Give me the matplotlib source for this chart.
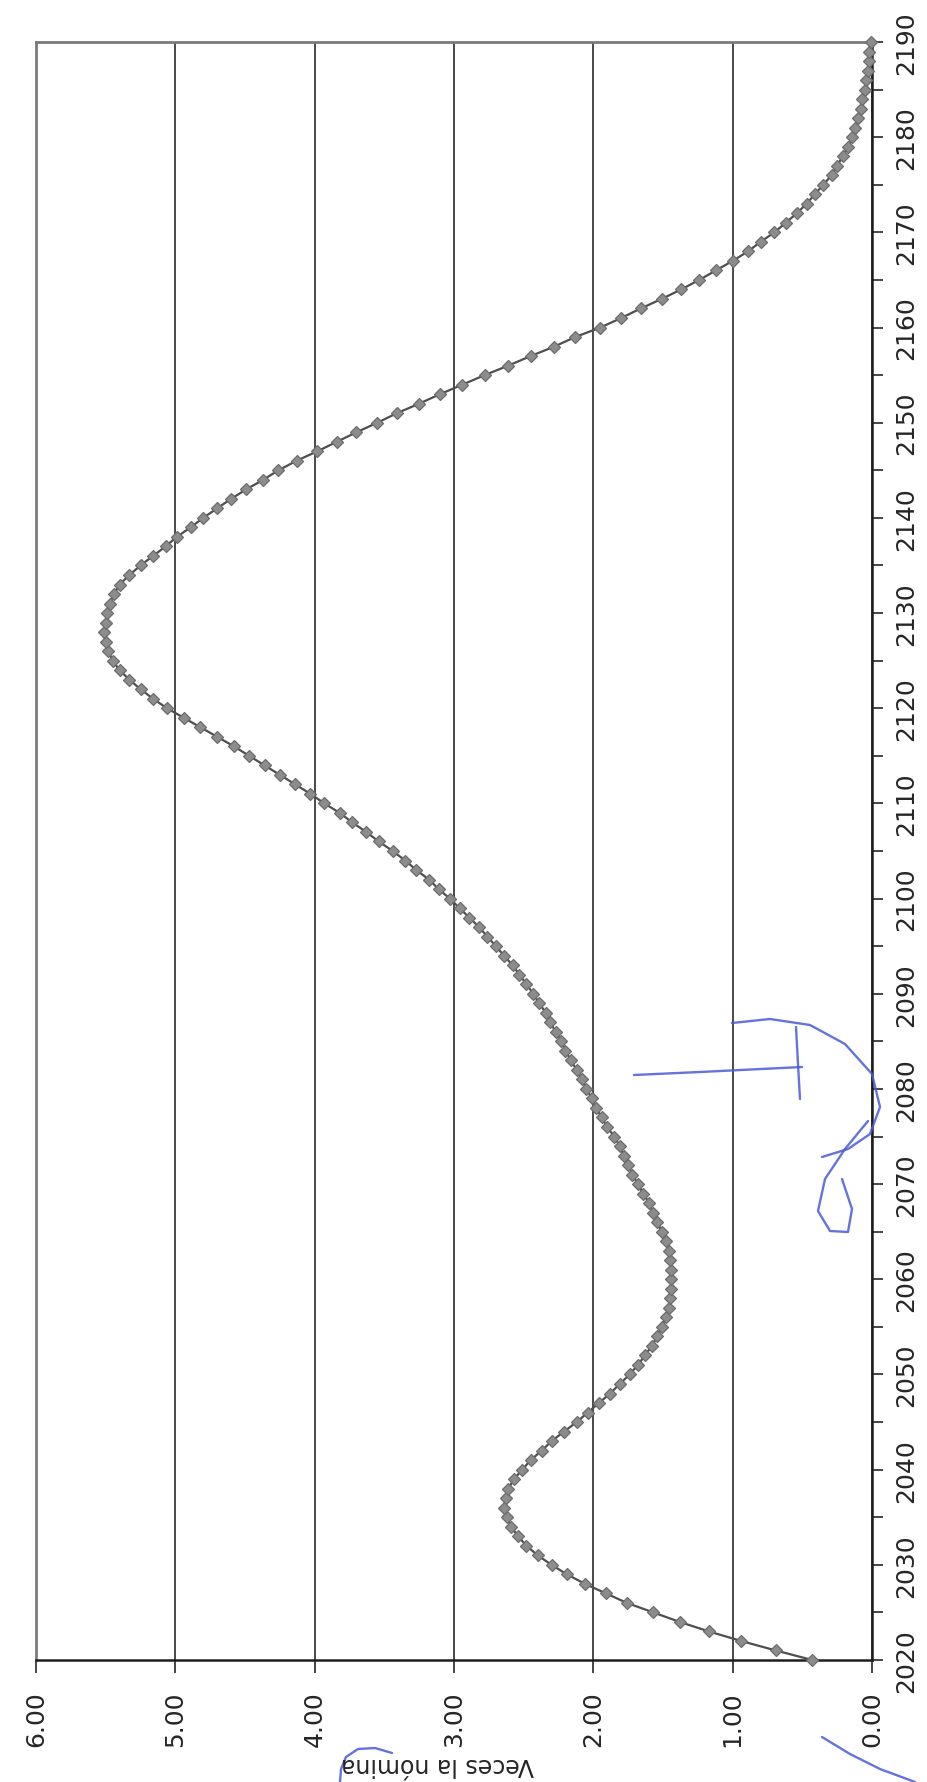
import matplotlib
matplotlib.use("Agg")
import matplotlib.pyplot as plt
from matplotlib.lines import Line2D

# ---------------- data ----------------
years = list(range(2020, 2191))
veces = [
    0.43, 0.69, 0.94, 1.17, 1.38, 1.57, 1.76, 1.91, 2.06, 2.19,   # 2020-2029
    2.30, 2.40, 2.48, 2.54, 2.59, 2.62, 2.64, 2.63, 2.61, 2.57,   # 2030-2039
    2.51, 2.45, 2.37, 2.30, 2.21, 2.12, 2.04, 1.96, 1.88, 1.81,   # 2040-2049
    1.74, 1.68, 1.63, 1.58, 1.54, 1.51, 1.48, 1.46, 1.45, 1.44,   # 2050-2059
    1.44, 1.44, 1.45, 1.46, 1.48, 1.51, 1.54, 1.57, 1.60, 1.64,   # 2060-2069
    1.68, 1.72, 1.75, 1.78, 1.81, 1.85, 1.90, 1.94, 1.98, 2.01,   # 2070-2079
    2.05, 2.08, 2.12, 2.16, 2.20, 2.23, 2.27, 2.31, 2.34, 2.39,   # 2080-2089
    2.43, 2.48, 2.53, 2.58, 2.64, 2.70, 2.76, 2.82, 2.89, 2.96,   # 2090-2099
    3.03, 3.11, 3.18, 3.27, 3.35, 3.44, 3.54, 3.63, 3.73, 3.82,   # 2100-2109
    3.93, 4.03, 4.14, 4.25, 4.36, 4.47, 4.58, 4.70, 4.82, 4.94,   # 2110-2119
    5.06, 5.16, 5.25, 5.33, 5.40, 5.45, 5.48, 5.50, 5.51, 5.50,   # 2120-2129
    5.49, 5.47, 5.44, 5.40, 5.33, 5.25, 5.16, 5.07, 4.99, 4.89,   # 2130-2139
    4.80, 4.70, 4.60, 4.49, 4.37, 4.26, 4.13, 3.98, 3.84, 3.70,   # 2140-2149
    3.55, 3.41, 3.25, 3.10, 2.94, 2.78, 2.61, 2.45, 2.28, 2.13,   # 2150-2159
    1.95, 1.80, 1.66, 1.51, 1.37, 1.24, 1.12, 1.00, 0.89, 0.80,   # 2160-2169
    0.70, 0.62, 0.54, 0.47, 0.41, 0.35, 0.29, 0.25, 0.21, 0.17,   # 2170-2179
    0.14, 0.12, 0.10, 0.08, 0.07, 0.05, 0.04, 0.03, 0.02, 0.02,   # 2180-2189
    0.01,                                                         # 2190
]
value_ticks = [0, 1, 2, 3, 4, 5, 6]
value_labels = ["0.00", "1.00", "2.00", "3.00", "4.00", "5.00", "6.00"]
year_ticks = list(range(2020, 2191, 5))
year_labels = [str(y) if y % 10 == 0 else "" for y in year_ticks]
axis_label = "Veces la nómina"

# ---------------- figure ----------------
W, H = 927, 1783
fig = plt.figure(figsize=(W / 100, H / 100), dpi=100)
fig.patch.set_facecolor("white")

L, R, T, B = 36, 872, 43, 1661
ax = fig.add_axes([L / W, 1 - B / H, (R - L) / W, (B - T) / H])

# rotated chart: values run horizontally (6 at left -> 0 at right),
# years run vertically (2020 at bottom -> 2190 at top)
ax.plot(veces, years, color="#4e4e4e", lw=1.6, marker="D", ms=6.0,
        mfc="#8c8c8c", mec="#6c6c6c", mew=0.9, zorder=3, clip_on=False)

ax.set_xlim(6, 0)
ax.set_ylim(2020, 2190)

ax.set_xticks(value_ticks)
ax.set_xticklabels(value_labels, rotation=90)
ax.yaxis.tick_right()
ax.set_yticks(year_ticks)
ax.set_yticklabels(year_labels, rotation=90, va="center")

ax.tick_params(axis="x", direction="out", length=9, width=1.2, pad=13,
               labelsize=18, colors="#262626")
ax.tick_params(axis="y", direction="out", length=8, width=1.2, pad=8,
               labelsize=18, colors="#262626")

ax.xaxis.grid(True, color="#2a2a2a", lw=1.2)
ax.yaxis.grid(False)
ax.set_axisbelow(True)

for side in ("top", "left"):
    ax.spines[side].set_color("#7a7a7a")
    ax.spines[side].set_linewidth(2.0)
for side in ("bottom", "right"):
    ax.spines[side].set_color("#1e1e1e")
    ax.spines[side].set_linewidth(1.8)

fig.text(438 / W, 1 - 1765 / H, axis_label, rotation=180, ha="center",
         va="center", fontsize=17, color="#262626")

# ---------------- hand-written pen marks (figure pixel coords) ----------------
pen = "#4a5ad8"
def stroke(pts, lw=1.7):
    xs = [p[0] / W for p in pts]
    ys = [1 - p[1] / H for p in pts]
    fig.add_artist(Line2D(xs, ys, color=pen, lw=lw, alpha=0.85,
                          transform=fig.transFigure, solid_capstyle="round",
                          solid_joinstyle="round"))

# horizontal bar and vertical stem
stroke([(634, 1076), (700, 1073), (802, 1068)])
stroke([(796, 1028), (798, 1065), (800, 1100)])
# large arc
stroke([(732, 1024), (770, 1020), (810, 1026), (845, 1045), (872, 1075),
        (880, 1108), (870, 1135), (848, 1150), (822, 1158)])
# lower loop
stroke([(868, 1122), (845, 1150), (825, 1180), (818, 1212), (830, 1232),
        (848, 1233), (852, 1210), (842, 1180)])
# bottom right stroke
stroke([(822, 1738), (850, 1755), (880, 1770), (915, 1783)])
# bottom left arc
stroke([(340, 1783), (341, 1770), (346, 1758), (358, 1750), (375, 1749),
        (392, 1754)])

fig.savefig("out.png", dpi=100, facecolor="white")
